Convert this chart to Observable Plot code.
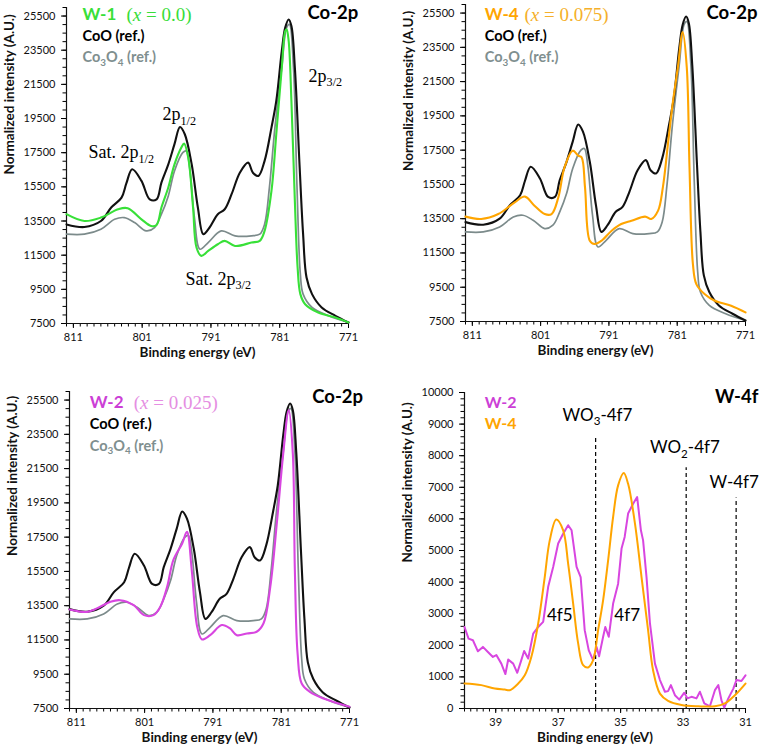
<!DOCTYPE html>
<html><head><meta charset="utf-8">
<script src="https://cdn.jsdelivr.net/npm/d3@7"></script>
<script src="https://cdn.jsdelivr.net/npm/@observablehq/plot@0.6"></script>
<style>
body{margin:0;background:#fff}
#wrap{position:relative;width:762px;height:749px;background:#fff;overflow:hidden}
#wrap svg{position:absolute}
</style></head><body><div id="wrap"></div>
<script>
// ---------- data ----------
// CoO reference, Co-2p
const coE = [812, 809.4, 807, 805.5, 804, 803.3, 802.45, 801.1, 799.9, 798.9, 798.2, 797.2, 796.3, 795.5, 794.8, 793.8, 792.9, 792.1, 791.2, 790, 789, 788, 786.8, 785.6, 784.9, 784.1, 783.2, 782.2, 781.5, 780.7, 780.2, 779.7, 779.3, 778.8, 778.1, 777.6, 777.1, 776.3, 774.9, 772.9, 771];
const coI = [13300, 13150, 13500, 14290, 14870, 15700, 16530, 15850, 14770, 14770, 15750, 16820, 18000, 19000, 18580, 16820, 14290, 12730, 13120, 13900, 14190, 15070, 16330, 16920, 16330, 16140, 17020, 18970, 20530, 23450, 24820, 25300, 24910, 22480, 16630, 12730, 10190, 9220, 8440, 7950, 7560];
// Co3O4 reference, Co-2p
const co3E = [812, 809.4, 807, 805, 803.6, 802.1, 800.4, 799.2, 798.2, 797.2, 796.3, 795.1, 794.6, 794.1, 793.4, 792.6, 791.4, 789.5, 787.5, 785.1, 783.9, 783.2, 782.5, 781.7, 780.7, 780, 779.6, 779, 778.5, 778, 777.6, 776.3, 773.9, 771];
const co3I = [12730, 12730, 13020, 13600, 13700, 13410, 12920, 13120, 13900, 14970, 16430, 17500, 17600, 16630, 13700, 11850, 12240, 12920, 12630, 12630, 12730, 13310, 15460, 18970, 22480, 24820, 25010, 22480, 15650, 10390, 9220, 8440, 7950, 7560];
// W-1 (x = 0.0)
const w1E = [812, 809.4, 807, 804.5, 803.1, 801.1, 799.7, 798.9, 798.2, 797.2, 796.3, 795.3, 794.9, 794.3, 793.6, 793.1, 792.4, 791.4, 790, 789, 787.5, 785.1, 783.9, 783.2, 782.2, 781.5, 780.7, 780.2, 780, 779.7, 779.3, 778.8, 778.4, 778.0, 777.3, 775.4, 772.9, 771];
const w1I = [13900, 13500, 13700, 14190, 14250, 13600, 13210, 13270, 14290, 15460, 16820, 17800, 18030, 17210, 14290, 11950, 11460, 11750, 12140, 12340, 12040, 12240, 12340, 12920, 15260, 18580, 22480, 24620, 24720, 24040, 20530, 14680, 10780, 9220, 8630, 8140, 7850, 7560];
// W-4 (x = 0.075)
const w4E = [812, 809.7, 807.2, 804.8, 803.3, 801.9, 800.4, 799.4, 798.4, 797.5, 796.3, 795.5, 795.0, 794.5, 793.8, 793.1, 792.1, 790.6, 789.2, 787.7, 785.7, 784.8, 783.8, 783.1, 782.3, 781.6, 780.9, 780.2, 779.6, 779.2, 778.7, 778.2, 777, 775.5, 773.1, 771];
const w4I = [13620, 13480, 13770, 14450, 14790, 14260, 13770, 13770, 14750, 16500, 17470, 17180, 17080, 15330, 12210, 12020, 12210, 12800, 13190, 13380, 13620, 13480, 13970, 15330, 18060, 20400, 22340, 24390, 22340, 16500, 10850, 9680, 9100, 8710, 8420, 8030];
// W-2 (x = 0.025)
const w2E = [812, 809.4, 807.5, 806, 804.6, 802.6, 801.1, 799.7, 798.7, 797.7, 796.8, 795.5, 794.8, 794.1, 793.3, 792.6, 791.4, 789.7, 788.5, 787.5, 786, 784.6, 783.6, 782.6, 781.6, 780.7, 779.9, 779.3, 779, 778.6, 778, 776.8, 774.8, 771];
const w2I = [13280, 13140, 13440, 13730, 13820, 13530, 12950, 12950, 13440, 14600, 16160, 17130, 17810, 15580, 12270, 11530, 11780, 12370, 12170, 11780, 11880, 11980, 12460, 14600, 18490, 22390, 24920, 22390, 15580, 10710, 8960, 8470, 8080, 7600];
// W-4f spectra
const w4fE = [40, 39.46, 39.03, 38.71, 38.55, 38.28, 38.07, 37.86, 37.64, 37.43, 37.27, 37.06, 36.84, 36.68, 36.52, 36.36, 36.2, 36.04, 35.88, 35.72, 35.56, 35.4, 35.24, 35.08, 34.9, 34.76, 34.54, 34.33, 34.12, 33.96, 33.74, 33.48, 33.05, 32.51, 31.98, 31.66, 31.34, 31];
const w4fI = [790, 740, 630, 600, 580, 790, 1050, 1630, 2690, 4160, 5320, 5980, 5640, 4580, 3320, 2060, 1370, 1300, 1530, 2480, 3430, 4690, 6060, 7060, 7450, 7110, 5850, 4160, 2480, 1210, 470, 240, 110, 70, 70, 160, 420, 790];
const w2fE = [40, 39.87, 39.73, 39.57, 39.41, 39.25, 39.09, 38.98, 38.82, 38.69, 38.6, 38.44, 38.31, 38.18, 38.09, 37.96, 37.8, 37.64, 37.48, 37.32, 37.16, 37.0, 36.84, 36.68, 36.57, 36.41, 36.28, 36.15, 36.02, 35.88, 35.77, 35.69, 35.56, 35.49, 35.38, 35.24, 35.08, 34.97, 34.87, 34.76, 34.6, 34.47, 34.35, 34.28, 34.17, 34.06, 33.9, 33.74, 33.58, 33.48, 33.39, 33.26, 33.12, 32.96, 32.86, 32.73, 32.57, 32.46, 32.32, 32.14, 31.98, 31.87, 31.77, 31.68, 31.55, 31.39, 31.29, 31.13, 31];
const w2fI = [2580, 2210, 2160, 1810, 1950, 1790, 1630, 1690, 1420, 1090, 1550, 1420, 1130, 1530, 1820, 1580, 2370, 2580, 2740, 3850, 4480, 5220, 5530, 5800, 5640, 4480, 4160, 2480, 1840, 1530, 1950, 1650, 2270, 2580, 2270, 3320, 3950, 5060, 5430, 6170, 6480, 6690, 5640, 5320, 4160, 2690, 1420, 900, 530, 550, 740, 420, 280, 500, 320, 370, 320, 530, 160, 70, 580, 740, 260, 30, 320, 630, 900, 870, 1050];
// reference binding energies (W-4f panel)
const refE = [35.8, 32.9, 31.3];
const refTop = [8610, 7620, 6660];
const refLabels = ["WO_{3}-4f7", "WO_{2}-4f7", "W-4f7"];
// axis ticks
const coXTicks = [811, 801, 791, 781, 771];
const coYTicks = [7500, 9500, 11500, 13500, 15500, 17500, 19500, 21500, 23500, 25500];
const wXTicks = [39, 37, 35, 33, 31];
const wYTicks = [0, 1000, 2000, 3000, 4000, 5000, 6000, 7000, 8000, 9000, 10000];
const xTitle = "Binding energy (eV)";
const yTitle = "Normalized intensity (A.U.)";

// ---------- helpers ----------
const zip = (E, I) => E.map((e, i) => ({e, v: I[i]}));
const SANS = "Lato, 'Open Sans', sans-serif";
const SERIF = "'Liberation Serif', 'DejaVu Serif', serif";
const C = {
  green: "#38e038", greenTxt: "#38dd38",
  orange: "#ffa500", orangeTxt: "#f5b02a", orangeLeg: "#ffa500",
  magenta: "#d846e0", magentaLeg: "#cc3fd6", pinkTxt: "#e58ee2",
  gray: "#7c8b8b", black: "#111"
};
const fmt = d => String(d);

function richify(svg) {
  svg.querySelectorAll("text").forEach(el => {
    const s = el.textContent;
    if (!/_\{|\*/.test(s)) return;
    const fs = parseFloat(getComputedStyle(el).fontSize) || 12;
    el.textContent = "";
    const parts = s.split(/(_\{[^}]*\}|\*[^*]+\*)/).filter(p => p !== "");
    let shifted = false;
    for (const p of parts) {
      const ts = document.createElementNS("http://www.w3.org/2000/svg", "tspan");
      let dy = 0;
      if (p.startsWith("_{")) {
        ts.textContent = p.slice(2, -1);
        ts.setAttribute("font-size", (fs * 0.68).toFixed(1));
        if (!shifted) { dy = fs * 0.26; shifted = true; }
      } else {
        if (p.startsWith("*")) { ts.textContent = p.slice(1, -1); ts.setAttribute("font-style", "italic"); }
        else ts.textContent = p;
        if (shifted) { dy = -fs * 0.26; shifted = false; }
      }
      if (dy) ts.setAttribute("dy", dy.toFixed(1));
      el.appendChild(ts);
    }
  });
}

function axes(xDom, yDom, xMajor, yMajor, xMinor, yMinor, ydy) {
  return [
    Plot.axisY(yMinor, {tickSize: 3.5, fill: "none", label: null, strokeWidth: 1}),
    Plot.axisY(yMajor, {tickSize: 5, tickPadding: 6, tickFormat: fmt, label: null, fontSize: 11, fill: "#111", strokeWidth: 1}),
    Plot.axisX(xMinor, {tickSize: 3.5, fill: "none", label: null, strokeWidth: 1}),
    Plot.axisX(xMajor, {tickSize: 5, tickPadding: 5, tickFormat: fmt, label: null, fontSize: 11, fill: "#111", strokeWidth: 1}),
    Plot.ruleX([xDom[0]], {stroke: "#111", strokeWidth: 1.2}),
    Plot.ruleY([yDom[0]], {stroke: "#111", strokeWidth: 1.2}),
    Plot.text([xTitle], {frameAnchor: "bottom", dy: 33, dx: -10, fontWeight: "bold", fontSize: 13.5, fill: "#111"}),
    Plot.text([yTitle], {frameAnchor: "left", rotate: -90, dx: -57, dy: ydy, fontWeight: "bold", fontSize: 13.5, fill: "#111"})
  ];
}

const CURVE = "catmull-rom";

function coPanel(o) {
  const xDom = [812, 771], yDom = [7500, 26000];
  const [lx, ly] = o.leg; // legend anchor in data units
  return Plot.plot({
    width: 381, height: o.h,
    marginLeft: o.ml, marginRight: o.mr, marginTop: o.mt, marginBottom: o.mb,
    x: {domain: xDom, axis: null},
    y: {domain: yDom, axis: null},
    style: {fontFamily: SANS, fontSize: "11px", background: "transparent", overflow: "visible"},
    marks: [
      ...axes(xDom, yDom, coXTicks, coYTicks, d3.range(771, 813, 1), d3.range(7500, 26001, 500), o.ydy),
      Plot.line(zip(co3E, co3I), {x: "e", y: "v", stroke: C.gray, strokeWidth: 1.7, curve: CURVE}),
      Plot.line(zip(coE, coI), {x: "e", y: "v", stroke: C.black, strokeWidth: 2.1, curve: CURVE}),
      Plot.line(zip(o.E, o.I), {x: "e", y: "v", stroke: o.color, strokeWidth: 2.1, curve: CURVE}),
      Plot.text([{x: lx, y: ly, t: o.name}], {x: "x", y: "y", text: "t", textAnchor: "start", fontWeight: "bold", fontSize: 17, fill: o.legColor}),
      Plot.text([{x: o.xlab, y: ly, t: o.xtxt}], {x: "x", y: "y", text: "t", textAnchor: "start", fontFamily: SERIF, fontSize: 19, fill: o.xColor}),
      Plot.text([{x: lx, y: ly - 1270, t: "CoO (ref.)"}], {x: "x", y: "y", text: "t", textAnchor: "start", fontWeight: "bold", fontSize: 14.5, fill: "#000"}),
      Plot.text([{x: lx, y: ly - 2530, t: "Co_{3}O_{4} (ref.)"}], {x: "x", y: "y", text: "t", textAnchor: "start", fontWeight: "bold", fontSize: 14.5, fill: "#7f8f8f"}),
      Plot.text([{x: o.coX, y: o.coY, t: "Co-2p"}], {x: "x", y: "y", text: "t", textAnchor: "start", fontWeight: "bold", fontSize: 18.5, fill: "#000"}),
      ...(o.notes || [])
    ]
  });
}

function serifNote(x, y, t) {
  return Plot.text([{x, y, t}], {x: "x", y: "y", text: "t", textAnchor: "start", fontFamily: SERIF, fontSize: 18, fill: "#000"});
}

const wrap = document.getElementById("wrap");
function place(svg, left, top) {
  svg.style.left = left + "px";
  svg.style.top = top + "px";
  wrap.appendChild(svg);
  richify(svg);
}

// Panel 1: W-1
place(coPanel({
  h: 370, ml: 66, mr: 33, mt: 7, mb: 47, ydy: 9,
  E: w1E, I: w1I, color: C.green, legColor: C.green, xColor: C.greenTxt,
  name: "W-1", xtxt: "(*x* = 0.0)", leg: [809.67, 25590], xlab: 803.28,
  coX: 776.96, coY: 25650,
  notes: [
    serifNote(776.8, 22000, "2p_{3/2}"),
    serifNote(798.04, 19750, "2p_{1/2}"),
    serifNote(808.8, 17530, "Sat. 2p_{1/2}"),
    serifNote(794.7, 10120, "Sat. 2p_{3/2}")
  ]
}), 0, 0);

// Panel 2: W-4
place(coPanel({
  h: 370, ml: 84, mr: 17, mt: 4, mb: 49, ydy: 8,
  E: w4E, I: w4I, color: C.orange, legColor: C.orangeLeg, xColor: C.orangeTxt,
  name: "W-4", xtxt: "(*x* = 0.075)", leg: [809.17, 25420], xlab: 803.36,
  coX: 776.7, coY: 25490
}), 381, 0);

// Panel 3: W-2
place(coPanel({
  h: 379, ml: 69, mr: 32, mt: 21, mb: 41, ydy: 6,
  E: w2E, I: w2I, color: C.magenta, legColor: C.magentaLeg, xColor: C.pinkTxt,
  name: "W-2", xtxt: "(*x* = 0.025)", leg: [809.03, 25350], xlab: 802.6,
  coX: 776.45, coY: 25670
}), 0, 370);

// Panel 4: W-4f
(function () {
  const xDom = [40, 31], yDom = [0, 10000];
  const refs = refE.map((e, i) => ({e, top: refTop[i], t: refLabels[i]}));
  const labelY = [9272, 8250, 7160];
  const labelX = [35.74, 32.94, 31.36];
  const svg = Plot.plot({
    width: 381, height: 379,
    marginLeft: 83, marginRight: 17, marginTop: 22, marginBottom: 41,
    x: {domain: xDom, axis: null},
    y: {domain: yDom, axis: null},
    style: {fontFamily: SANS, fontSize: "11px", background: "transparent", overflow: "visible"},
    marks: [
      ...axes(xDom, yDom, wXTicks, wYTicks, d3.range(31, 40.001, 0.2).map(d => +d.toFixed(1)), d3.range(0, 10001, 200), 12),
      Plot.ruleX(refs, {x: "e", y1: 0, y2: "top", stroke: "#000", strokeWidth: 1.2, strokeDasharray: "4,3"}),
      Plot.line(zip(w2fE, w2fI), {x: "e", y: "v", stroke: C.magenta, strokeWidth: 2}),
      Plot.line(zip(w4fE, w4fI), {x: "e", y: "v", stroke: C.orange, strokeWidth: 2, curve: CURVE}),
      Plot.text(refs.map((r, i) => ({x: labelX[i], y: labelY[i], t: r.t})), {x: "x", y: "y", text: "t", textAnchor: "middle", fontSize: 17, fill: "#000"}),
      Plot.text([{x: 36.95, y: 2950, t: "4f5"}, {x: 34.79, y: 2950, t: "4f7"}], {x: "x", y: "y", text: "t", textAnchor: "middle", fontSize: 17, fill: "#000"}),
      Plot.text([{x: 39.35, y: 9674, t: "W-2"}], {x: "x", y: "y", text: "t", textAnchor: "start", fontWeight: "bold", fontSize: 16, fill: C.magentaLeg}),
      Plot.text([{x: 39.35, y: 9010, t: "W-4"}], {x: "x", y: "y", text: "t", textAnchor: "start", fontWeight: "bold", fontSize: 16, fill: C.orangeLeg}),
      Plot.text([{x: 31.98, y: 9850, t: "W-4f"}], {x: "x", y: "y", text: "t", textAnchor: "start", fontWeight: "bold", fontSize: 18.5, fill: "#000"})
    ]
  });
  place(svg, 381, 370);
})();
</script></body></html>
